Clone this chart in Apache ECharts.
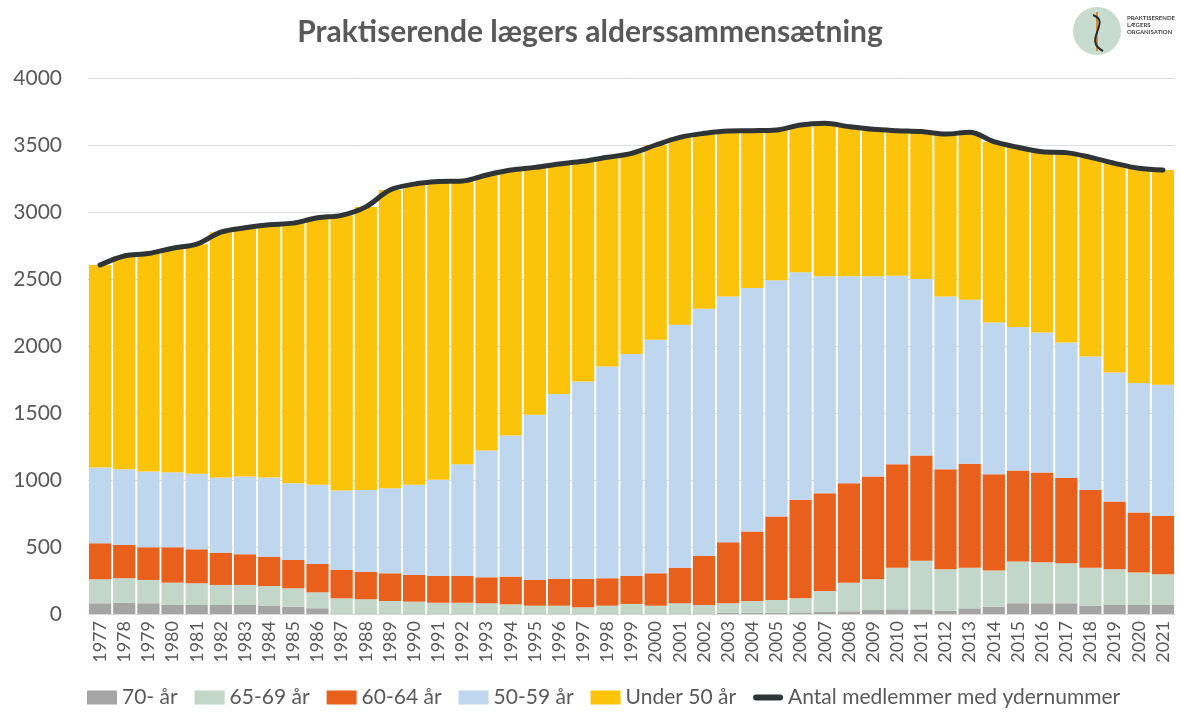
<!DOCTYPE html>
<html lang="da">
<head>
<meta charset="utf-8">
<title>Praktiserende lægers alderssammensætning</title>
<script src="https://cdn.jsdelivr.net/npm/echarts@6/dist/echarts.min.js"></script>
<style>
  html, body { margin: 0; padding: 0; background: #ffffff; }
  #chart { width: 1180px; height: 713px; }
</style>
</head>
<body>
<div id="chart"></div>
<script>
// Years on the category axis
const years = [
  '1977','1978','1979','1980','1981','1982','1983','1984','1985','1986',
  '1987','1988','1989','1990','1991','1992','1993','1994','1995','1996',
  '1997','1998','1999','2000','2001','2002','2003','2004','2005','2006',
  '2007','2008','2009','2010','2011','2012','2013','2014','2015','2016',
  '2017','2018','2019','2020','2021'
];

// Number of GPs in each age band (stacked from the bottom)
const age70plus = [
  80, 84, 80, 67, 67, 67, 67, 60, 55, 43,
  5, 5, 5, 5, 5, 5, 5, 5, 5, 5,
  5, 5, 5, 5, 5, 5, 10, 10, 10, 12,
  15, 20, 30, 35, 35, 25, 42, 55, 80, 80,
  80, 62, 67, 67, 67
];
const age65to69 = [
  179, 183, 174, 167, 162, 150, 150, 149, 137, 119,
  112, 105, 92, 87, 79, 79, 75, 67, 57, 57,
  45, 57, 70, 57, 75, 62, 70, 87, 95, 105,
  157, 214, 229, 311, 363, 309, 304, 269, 311, 306,
  299, 284, 267, 242, 230
];
const age60to64 = [
  269, 248, 244, 264, 254, 241, 229, 219, 211, 212,
  212, 206, 207, 199, 200, 200, 194, 207, 192, 199,
  211, 205, 209, 242, 266, 366, 456, 518, 622, 735,
  730, 742, 767, 772, 785, 747, 775, 719, 680, 670,
  635, 580, 505, 448, 435
];
const age50to59 = [
  565, 566, 565, 560, 563, 560, 580, 590, 573, 590,
  592, 610, 635, 673, 717, 834, 946, 1053, 1233, 1380,
  1474, 1580, 1656, 1743, 1813, 1845, 1834, 1818, 1763, 1698,
  1618, 1544, 1494, 1407, 1317, 1289, 1225, 1133, 1070, 1045,
  1013, 996, 963, 966, 979
];
const under50 = [
  1511, 1591, 1627, 1672, 1714, 1831, 1856, 1887, 1941, 1993,
  2054, 2112, 2225, 2244, 2226, 2114, 2056, 1981, 1846, 1717,
  1643, 1561, 1498, 1453, 1398, 1309, 1235, 1174, 1122, 1100,
  1142, 1117, 1097, 1082, 1100, 1212, 1249, 1349, 1342, 1349,
  1416, 1486, 1561, 1603, 1602
];
// Members with a provider number
const members = [
  2604, 2672, 2690, 2730, 2760, 2849, 2882, 2905, 2917, 2957,
  2975, 3038, 3164, 3208, 3227, 3232, 3276, 3313, 3333, 3358,
  3378, 3408, 3438, 3500, 3557, 3587, 3605, 3607, 3612, 3650,
  3662, 3637, 3617, 3607, 3600, 3582, 3595, 3525, 3483, 3450,
  3443, 3408, 3363, 3326, 3313
];

const yTicks = { min: 0, max: 4000, interval: 500 };

const FONT = 'Lato, "Open Sans", sans-serif';
const TEXT = '#595959';

const barNames = ['70- år', '65-69 år', '60-64 år', '50-59 år', 'Under 50 år'];
const barData = [age70plus, age65to69, age60to64, age50to59, under50];
const barColors = ['#a5a5a5', '#c2d6ca', '#e9601c', '#bed6ee', '#fcc30b'];
const lineName = 'Antal medlemmer med ydernummer';

const chart = echarts.init(document.getElementById('chart'), null, { renderer: 'canvas' });

const series = barNames.map((name, i) => ({
  name,
  type: 'bar',
  stack: 'alder',
  data: barData[i],
  barCategoryGap: '8%',
  itemStyle: { color: barColors[i] },
  emphasis: { disabled: true }
}));

series.push({
  name: lineName,
  type: 'line',
  data: members,
  smooth: 0.35,
  symbol: 'none',
  lineStyle: { color: '#2f3537', width: 5, cap: 'round', join: 'round' },
  itemStyle: { color: '#2f3537' },
  z: 5
});

// Logo: circle with staff and serpent plus the organisation name
const logo = [
  { type: 'circle', shape: { cx: 1097, cy: 31, r: 24 }, style: { fill: '#c8dbcf' } },
  { type: 'line', shape: { x1: 1097, y1: 12, x2: 1097, y2: 51 },
    style: { stroke: '#d88a3a', lineWidth: 2 } },
  { type: 'bezierCurve',
    shape: { x1: 1093, y1: 15, x2: 1103, y2: 51, cpx1: 1112, cpy1: 22, cpx2: 1082, cpy2: 40 },
    style: { stroke: '#2b2b2b', lineWidth: 2, fill: null } },
  { type: 'text', left: 1127, top: 15,
    style: { text: 'PRAKTISERENDE\nLÆGERS\nORGANISATION', font: 'bold 6px ' + FONT,
             fill: '#444444', lineHeight: 7 } }
];

chart.setOption({
  animation: false,
  backgroundColor: '#ffffff',
  title: {
    text: 'Praktiserende lægers alderssammensætning',
    left: 'center',
    top: 12,
    textStyle: { fontFamily: FONT, fontWeight: 'bold', fontSize: 30, color: TEXT }
  },
  grid: { left: 88, right: 5, top: 78, bottom: 99, containLabel: false },
  legend: {
    bottom: 0,
    left: 82,
    itemWidth: 30,
    itemHeight: 14,
    itemGap: 17,
    textStyle: { fontFamily: FONT, fontSize: 21, color: TEXT, padding: [0, 0, 0, 0] },
    data: [
      ...barNames.map(n => ({ name: n, icon: 'rect' })),
      { name: lineName, icon: 'path://M4,0 H36 A4,4 0 0 1 36,8 H4 A4,4 0 0 1 4,0 Z' }
    ]
  },
  xAxis: {
    type: 'category',
    data: years,
    axisTick: { show: false },
    axisLine: { lineStyle: { color: '#d9d9d9' } },
    axisLabel: { rotate: 90, fontFamily: FONT, fontSize: 18, color: TEXT, margin: 7, interval: 0 }
  },
  yAxis: {
    type: 'value',
    min: yTicks.min,
    max: yTicks.max,
    interval: yTicks.interval,
    axisLine: { show: false },
    axisTick: { show: false },
    splitLine: { lineStyle: { color: '#dedede', width: 1 } },
    axisLabel: { fontFamily: FONT, fontSize: 21, color: TEXT, margin: 26,
                 formatter: v => String(v) }
  },
  graphic: logo,
  series
});
</script>
</body>
</html>
